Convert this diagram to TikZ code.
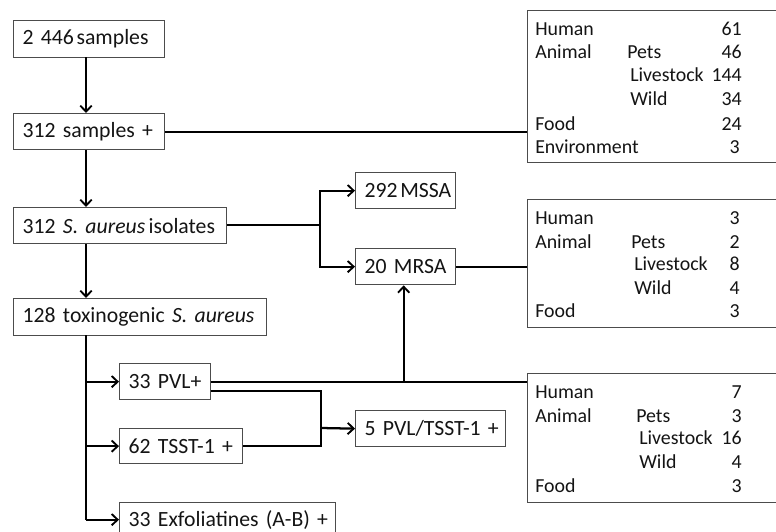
\documentclass[tikz,border=0pt]{standalone}
\usepackage{fontspec}
\setmainfont{Carlito}
\usetikzlibrary{arrows.meta}
\begin{document}
\begin{tikzpicture}[x=0.75pt,y=-0.75pt,
  font=\fontsize{16.3}{19}\selectfont,
  box/.style={draw=black!70,line width=1pt,inner xsep=6.75pt,inner ysep=0pt,align=left,anchor=north west,text=black!92},
  tbox/.style={draw=black!70,line width=1pt,inner sep=0pt,anchor=north west},
  conn/.style={draw=black,line width=1.7pt},
  arr/.style={conn,-{Straight Barb[length=4.5pt,width=8.5pt,line width=1.4pt]}},
  cell/.style={inner sep=0pt,anchor=base west,text=black!92,font=\fontsize{14.9}{18}\selectfont},
  num/.style={inner sep=0pt,anchor=base east,text=black!92,font=\fontsize{14.9}{18}\selectfont}]
\useasboundingbox (0,0) rectangle (776,532);
\begin{scope}
\clip (0,0) rectangle (776,532);
% main boxes
\node[box,text width=99.75pt,minimum height=27.75pt] (n1) at (13,20) {\mbox{2 446\hspace{0.12em}samples}};
\node[box,text width=99.75pt,minimum height=27pt] (n2) at (13,113) {\mbox{312 samples +}};
\node[box,text width=146.25pt,minimum height=27pt] (n3) at (13,207) {\mbox{312 \textit{S. aureus}\hspace{0.15em}isolates}};
\node[box,text width=176.25pt,minimum height=27.75pt] (n4) at (13,298) {\mbox{128 toxinogenic \textit{S. aureus}}};
\node[box,text width=61.5pt,minimum height=27pt] (mssa) at (355,172) {\mbox{292\hspace{0.12em}MSSA}};
\node[box,text width=61.5pt,minimum height=27pt] (mrsa) at (355,248) {\mbox{20 MRSA}};
\node[box,text width=54.75pt,minimum height=27pt] (pvl) at (119,363) {\mbox{33 PVL+}};
\node[box,text width=78.75pt,minimum height=26.25pt] (tsst) at (119,428) {\mbox{62 TSST-1 +}};
\node[box,text width=99pt,minimum height=27pt] (both) at (355,410) {\mbox{5 PVL/TSST-1 +}};
\node[box,text width=148.5pt,minimum height=25.5pt] (exf) at (119,502) {\mbox{33 Exfoliatines (A-B) +}};
% right table boxes
\node[tbox,minimum width=195pt,minimum height=114pt] (A) at (527,10) {};
\node[tbox,minimum width=195pt,minimum height=96pt] (B) at (527,199) {};
\node[tbox,minimum width=195pt,minimum height=96.75pt] (C) at (527,373) {};
% table A
\node[cell] (a1) at (535,35) {Human};      \node[num] (a1n) at (742,35) {61};
\node[cell] (a2) at (535,58) {Animal};     \node[cell] (a2s) at (627,58) {Pets}; \node[num] (a2n) at (742,58) {46};
\node[cell] (a3s) at (630,81) {Livestock}; \node[num] (a3n) at (742,81) {144};
\node[cell] (a4s) at (630,105) {Wild};     \node[num] (a4n) at (742,105) {34};
\node[cell] (a5) at (535,130) {Food};      \node[num] (a5n) at (742,130) {24};
\node[cell] (a6) at (535,153) {Environment}; \node[num] (a6n) at (740,153) {3};
% table B
\node[cell] (b1) at (535,224) {Human};      \node[num] (b1n) at (740,224) {3};
\node[cell] (b2) at (535,248) {Animal};     \node[cell] (b2s) at (631,248) {Pets}; \node[num] (b2n) at (740,248) {2};
\node[cell] (b3s) at (634,270) {Livestock}; \node[num] (b3n) at (740,270) {8};
\node[cell] (b4s) at (634,294) {Wild};      \node[num] (b4n) at (740,294) {4};
\node[cell] (b5) at (535,317) {Food};       \node[num] (b5n) at (740,317) {3};
% table C
\node[cell] (c1) at (535,398) {Human};      \node[num] (c1n) at (742,398) {7};
\node[cell] (c2) at (535,422) {Animal};     \node[cell] (c2s) at (636,422) {Pets}; \node[num] (c2n) at (742,422) {3};
\node[cell] (c3s) at (639,444) {Livestock}; \node[num] (c3n) at (742,444) {16};
\node[cell] (c4s) at (639,468) {Wild};      \node[num] (c4n) at (742,468) {4};
\node[cell] (c5) at (535,492) {Food};       \node[num] (c5n) at (742,492) {3};
% helper coordinates
\coordinate (s1) at (86,57);
\coordinate (t) at (86,335);
\coordinate (j1) at (320,225);
\coordinate (j2) at (321,428);
% connectors
\draw[arr] (s1) -- (s1 |- n2.north);
\draw[arr] (s1 |- n2.south) -- (s1 |- n3.north);
\draw[arr] (s1 |- n3.south) -- (s1 |- n4.north);
\draw[conn] (n2.east) -- (n2.east -| A.west);
\draw[conn] (n3.east |- j1) -- (j1);
\draw[arr] (j1) |- (mssa.west);
\draw[arr] (j1) |- (mrsa.west);
\draw[conn] (mrsa.east) -- (mrsa.east -| B.west);
\draw[conn] (t) -- (t |- exf.west);
\draw[arr] (t |- pvl.west) -- (pvl.west);
\draw[arr] (t |- tsst.west) -- (tsst.west);
\draw[arr] (t |- exf.west) -- (exf.west);
\draw[conn] (pvl.east) -- (pvl.east -| C.west);
\draw[arr] ([xshift=-1.5pt]mrsa.south |- pvl.east) -- ([xshift=-1.5pt]mrsa.south);
\draw[conn] ([yshift=-7pt]pvl.east) -| (j2) |- (tsst.east);
\draw[arr] (j2) -- (both.west);
\end{scope}
\end{tikzpicture}
\end{document}
